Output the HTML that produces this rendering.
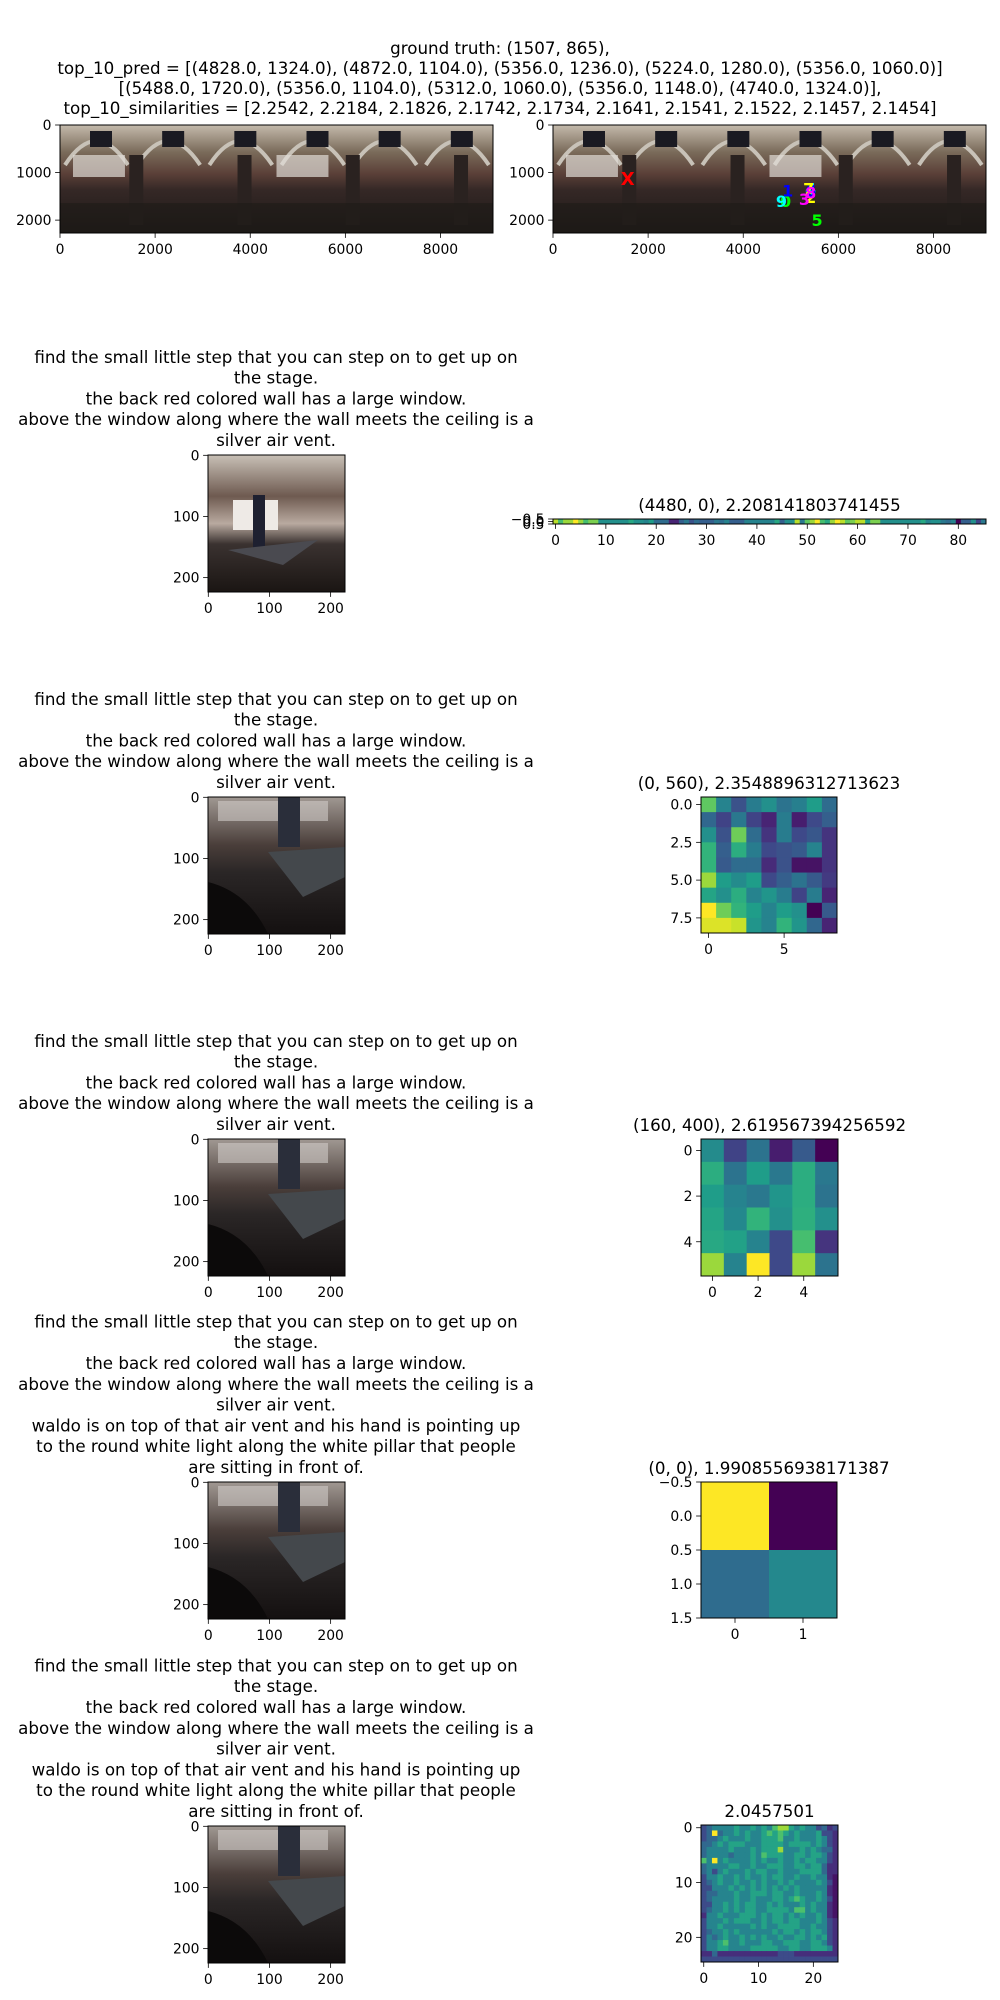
<!DOCTYPE html>
<html><head><meta charset="utf-8">
<style>
html,body{margin:0;padding:0;background:#fff;}
svg{display:block;}
text{font-family:"DejaVu Sans","Liberation Sans",sans-serif;}
</style></head>
<body>
<svg id="fig" width="1000" height="2000" viewBox="0 0 1000 2000" xmlns="http://www.w3.org/2000/svg">
<defs>
<linearGradient id="panoBg" x1="0" y1="0" x2="0" y2="1">
<stop offset="0" stop-color="#c4baac"/><stop offset="0.25" stop-color="#7a6b5a"/><stop offset="0.45" stop-color="#5b4038"/><stop offset="0.6" stop-color="#352826"/><stop offset="1" stop-color="#1c1816"/>
</linearGradient>
<linearGradient id="crop1" x1="0" y1="0" x2="0" y2="1">
<stop offset="0" stop-color="#c8c0b6"/><stop offset="0.3" stop-color="#6e5a50"/><stop offset="0.5" stop-color="#b9aaa0"/><stop offset="0.65" stop-color="#3a3230"/><stop offset="1" stop-color="#1a1513"/>
</linearGradient>
<linearGradient id="crop2" x1="0" y1="0" x2="0" y2="1">
<stop offset="0" stop-color="#a09892"/><stop offset="0.35" stop-color="#4a3e3a"/><stop offset="0.55" stop-color="#2a2626"/><stop offset="1" stop-color="#141010"/>
</linearGradient>
</defs>
<g id="root"></g>
</svg>
<script>
// ---------- data ----------
const stripValues = [0.9,0.7,0.85,0.85,1.0,0.85,0.7,0.8,0.8,0.5,0.5,0.5,0.5,0.5,0.5,0.6,0.5,0.5,0.45,0.55,0.35,0.35,0.35,0.1,0.1,0.3,0.4,0.25,0.35,0.3,0.3,0.3,0.4,0.35,0.45,0.3,0.3,0.3,0.45,0.45,0.45,0.45,0.45,0.45,0.6,0.3,0.5,0.5,0.9,0.4,0.75,0.85,1.0,0.7,0.6,0.85,1.0,0.9,0.75,0.8,0.9,0.9,0.55,0.8,0.8,0.5,0.5,0.5,0.5,0.5,0.5,0.5,0.5,0.6,0.45,0.5,0.5,0.4,0.35,0.45,0.0,0.3,0.3,0.5,0.2,0.4];
const grid9 = [
[0.75,0.45,0.25,0.42,0.5,0.38,0.43,0.55,0.35],
[0.33,0.2,0.4,0.2,0.1,0.42,0.08,0.22,0.3],
[0.5,0.25,0.78,0.35,0.15,0.42,0.22,0.27,0.15],
[0.65,0.3,0.62,0.42,0.22,0.25,0.28,0.45,0.15],
[0.65,0.28,0.35,0.35,0.12,0.25,0.05,0.05,0.15],
[0.85,0.55,0.48,0.55,0.22,0.3,0.38,0.28,0.17],
[0.58,0.5,0.62,0.45,0.52,0.42,0.2,0.42,0.1],
[1.0,0.78,0.65,0.55,0.45,0.55,0.5,0.0,0.28],
[0.95,0.95,0.92,0.52,0.45,0.65,0.52,0.33,0.1]];
const grid6 = [
[0.48,0.2,0.38,0.08,0.28,0.0],
[0.62,0.38,0.55,0.4,0.62,0.4],
[0.55,0.45,0.4,0.52,0.62,0.38],
[0.58,0.47,0.65,0.5,0.63,0.5],
[0.6,0.57,0.45,0.22,0.7,0.15],
[0.85,0.45,1.0,0.22,0.85,0.38]];
const grid2 = [[1.0,0.0],[0.35,0.47]];
const grid25Rows = [
"3455556556565788656553423","3494556565567676565556332","3445655565566675565556532",
"4456566655566665666656532","4555565556566685556565442","4555545556576665566566532",
"7595655556565565565665532","4555566556556665566566422","4535655565665565556666422",
"3556556565565665565565521","3456556556565565655556531","3355565656565656565555521",
"3445556556665665565556521","3455556556555665676556531","3355656566556565556565521",
"3455656566556666577565521","2556555666565665656556521","3555656665565665665556532",
"3556555556565566665565532","3455656555555656656566532","3545655656565565566565632",
"3556755655566556665566532","3556655556666655665566652","2242222222222233322222222",
"3333333333333333333333333"];
const predX = [4828,4872,5356,5224,5356,5488,5356,5312,5356,4740];
const predY = [1324,1104,1236,1280,1060,1720,1104,1060,1148,1324];
const gtX = 1507, gtY = 865;
const panoXTicks = [0,2000,4000,6000,8000];
const panoYTicks = [0,1000,2000];
const cropTicks = [0,100,200];
const heatTitles = ["(4480, 0), 2.208141803741455","(0, 560), 2.3548896312713623","(160, 400), 2.619567394256592","(0, 0), 1.9908556938171387","2.0457501"];
const textShort = ["find the small little step that you can step on to get up on","the stage.","the back red colored wall has a large window.","above the window along where the wall meets the ceiling is a","silver air vent."];
const textLong = textShort.concat(["waldo is on top of that air vent and his hand is pointing up","to the round white light along the white pillar that people","are sitting in front of."]);
const titleLines = ["ground truth: (1507, 865),","top_10_pred = [(4828.0, 1324.0), (4872.0, 1104.0), (5356.0, 1236.0), (5224.0, 1280.0), (5356.0, 1060.0)]","[(5488.0, 1720.0), (5356.0, 1104.0), (5312.0, 1060.0), (5356.0, 1148.0), (4740.0, 1324.0)],","top_10_similarities = [2.2542, 2.2184, 2.1826, 2.1742, 2.1734, 2.1641, 2.1541, 2.1522, 2.1457, 2.1454]"];

// ---------- helpers ----------
const NS = "http://www.w3.org/2000/svg";
const root = document.getElementById('root');
function mk(tag, attrs, parent){ const e=document.createElementNS(NS,tag); for(const k in attrs) e.setAttribute(k,attrs[k]); (parent||root).appendChild(e); return e; }
function txt(str,x,y,size,anchor,parent,fill){ const t=mk('text',{x:x,y:y,'font-size':size,'text-anchor':anchor||'middle',fill:fill||'#000'},parent); t.textContent=str; return t; }
const VIR=[[68,1,84],[72,40,120],[62,74,137],[49,104,142],[38,130,142],[31,158,137],[53,183,121],[109,205,89],[180,222,44],[253,231,37]];
function viridis(v){ v=Math.max(0,Math.min(1,v)); const p=v*9, i=Math.min(8,Math.floor(p)), f=p-i; const a=VIR[i], b=VIR[i+1]; return 'rgb('+a.map((c,k)=>Math.round(c+(b[k]-c)*f)).join(',')+')'; }
function fmtTick(v,dec){ const s=Math.abs(v).toFixed(dec); return (v<0?'\u2212':'')+s; }
const TS=13.9;

function axesFrame(g,x0,y0,x1,y1){ mk('rect',{x:x0,y:y0,width:x1-x0,height:y1-y0,fill:'none',stroke:'#000','stroke-width':1},g); }
function xTick(g,px,y1,label){ mk('line',{x1:px,y1:y1,x2:px,y2:y1+4.9,stroke:'#000','stroke-width':0.8},g); txt(label,px,y1+21,TS,'middle',g); }
function yTick(g,x0,py,label){ mk('line',{x1:x0-4.9,y1:py,x2:x0,y2:py,stroke:'#000','stroke-width':0.8},g); txt(label,x0-8.5,py+5,TS,'end',g); }

// ---------- figure title ----------
const tg=mk('g',{});


titleLines.forEach((l,i)=>{ txt(l,500,54+i*20,16.7,'middle',tg); });

// ---------- panoramas ----------
function pano(x0,id){
  const y0=125, y1=233, w=433, sc=w/9104;
  const g=mk('g',{});
  
  
  mk('rect',{x:x0,y:y0,width:w,height:y1-y0,fill:'url(#panoBg)'},g);
  for(let k=0;k<6;k++){
    const ax=x0+k*w/6;
    mk('path',{d:`M${ax+5} ${y0+40} Q${ax+36} ${y0-8} ${ax+68} ${y0+40}`,fill:'none',stroke:'#c8c2b8','stroke-width':4},g);
    mk('rect',{x:ax+30,y:y0+6,width:22,height:16,fill:'#1a1a22'},g);
  }
  [[0.03,0.12],[0.5,0.12]].forEach(p=>{ mk('rect',{x:x0+w*p[0],y:y0+30,width:w*p[1],height:22,fill:'#e0dcd6',opacity:0.7},g); });
  [0.16,0.41,0.66,0.91].forEach(p=>{ mk('rect',{x:x0+w*p,y:y0+30,width:14,height:70,fill:'#2a2220'},g); });
  mk('rect',{x:x0,y:y0+78,width:w,height:30,fill:'#1e1a18',opacity:0.6},g);
  axesFrame(g,x0,y0,x0+w,y1);
  panoXTicks.forEach(v=>xTick(g,x0+v*sc,y1,String(v)));
  panoYTicks.forEach(v=>yTick(g,x0,y0+v*sc,String(v)));
  return {g,x0,y0,sc};
}
pano(60,'panorama-ground-truth');
const pr=pano(553,'panorama-predictions');
const mg=mk('g',{});


const gt=txt('X',pr.x0+gtX*pr.sc+3,pr.y0+gtY*pr.sc+19,18,'middle',mg,'red');
gt.setAttribute('font-weight','bold');
const mcols=['lime','blue','yellow','magenta','cyan'];
predX.forEach((px,i)=>{
  const t=txt(String(i),pr.x0+px*pr.sc+3,pr.y0+predY[i]*pr.sc+19,16,'middle',mg,mcols[i%5]);
  t.setAttribute('font-weight','bold');
  
  
});

// ---------- crops with text ----------
const cropTops=[455,797,1139,1482,1826];
function crop(i,top,lines){
  const x0=208,w=137,sc=w/224;
  const g=mk('g',{});
  
  
  const n=lines.length;
  lines.forEach((l,k)=>{ txt(l,276,top-15-(n-1-k)*20.8+6,16.7,'middle',g); });
  mk('rect',{x:x0,y:top,width:w,height:w,fill:i===0?'url(#crop1)':'url(#crop2)'},g);
  if(i===0){
    mk('rect',{x:x0+25,y:top+45,width:45,height:30,fill:'#eeeae6'},g);
    mk('rect',{x:x0+45,y:top+40,width:12,height:55,fill:'#1e2030'},g);
    mk('path',{d:`M${x0+20} ${top+95} L${x0+110} ${top+85} L${x0+75} ${top+110} Z`,fill:'#4a4a50'},g);
  } else {
    mk('rect',{x:x0+10,y:top+4,width:110,height:20,fill:'#d0ccc8',opacity:0.6},g);
    mk('rect',{x:x0+70,y:top,width:22,height:50,fill:'#2a2e3a'},g);
    mk('path',{d:`M${x0+60} ${top+55} L${x0+137} ${top+50} L${x0+137} ${top+80} L${x0+95} ${top+100} Z`,fill:'#44484c'},g);
    mk('path',{d:`M${x0} ${top+85} Q${x0+40} ${top+95} ${x0+60} ${top+137} L${x0} ${top+137} Z`,fill:'#0c0a0a'},g);
  }
  axesFrame(g,x0,top,x0+w,top+w);
  cropTicks.forEach(v=>{ xTick(g,x0+(v+0.5)*sc,top+w,String(v)); yTick(g,x0,top+(v+0.5)*sc,String(v)); });
}
cropTops.forEach((t,i)=>crop(i,t,i<3?textShort:textLong));

// ---------- heatmaps ----------
function heat(name,x0,y0,x1,y1,grid,title,xt,yt,ydec){
  const g=mk('g',{});
  
  
  const nr=grid.length,nc=grid[0].length,cw=(x1-x0)/nc,ch=(y1-y0)/nr;
  grid.forEach((row,r)=>row.forEach((v,c)=>{
    const cell=mk('rect',{x:x0+c*cw,y:y0+r*ch,width:cw+0.4,height:ch+0.4,fill:viridis(v)},g);
    
    
  }));
  axesFrame(g,x0,y0,x1,y1);
  txt(title,(x0+x1)/2,y0-8,16.7,'middle',g);
  xt.forEach(v=>xTick(g,x0+(v+0.5)*cw,y1,String(v)));
  yt.forEach(v=>yTick(g,x0,y0+(v+0.5)*ch,fmtTick(v,ydec)));
}
heat('heatmap-strip',553,519,986,524,[stripValues],heatTitles[0],[0,10,20,30,40,50,60,70,80],[-0.5,0.0,0.5],1);
heat('heatmap-9x9',701,797,837,933,grid9,heatTitles[1],[0,5],[0,2.5,5,7.5],1);
heat('heatmap-6x6',701,1139,838,1276,grid6,heatTitles[2],[0,2,4],[0,2,4],0);
heat('heatmap-2x2',701,1482,837,1618,grid2,heatTitles[3],[0,1],[-0.5,0,0.5,1,1.5],1);
const grid25=grid25Rows.map(s=>s.split('').map(ch=>Math.pow(Number(ch)/9,1.35)));
heat('heatmap-25x25',701,1825,838,1962,grid25,heatTitles[4],[0,10,20],[0,10,20],0);
</script>
</body></html>
